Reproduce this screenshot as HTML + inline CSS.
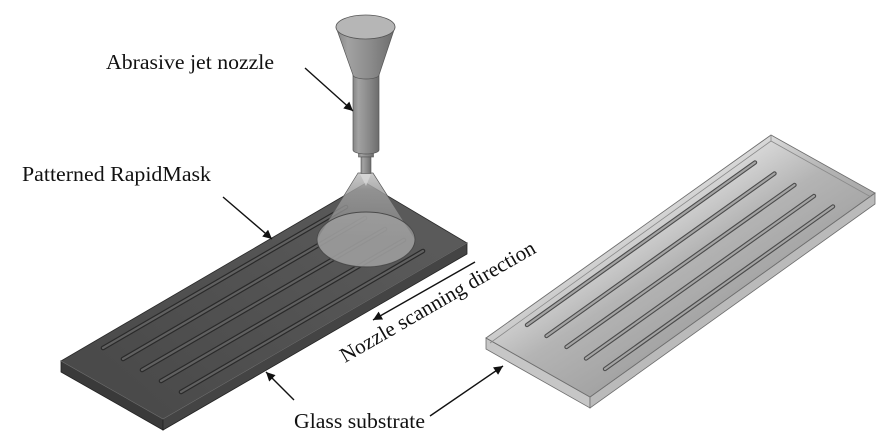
<!DOCTYPE html>
<html><head><meta charset="utf-8"><style>
html,body{margin:0;padding:0;background:#fff;}
svg{display:block;}
text{font-family:"Liberation Serif","DejaVu Serif",serif;fill:#111;}
</style></head><body>
<svg width="884" height="439" viewBox="0 0 884 439" xmlns="http://www.w3.org/2000/svg">
<defs>
<marker id="ah" viewBox="0 0 10 10" refX="10" refY="5" markerUnits="userSpaceOnUse" markerWidth="11" markerHeight="9" orient="auto">
<path d="M0,0 L10,5 L0,10 Z" fill="#111"/>
</marker>
<linearGradient id="darkTop" x1="366" y1="183" x2="163" y2="419" gradientUnits="userSpaceOnUse">
<stop offset="0" stop-color="#5a5a5a"/><stop offset="1" stop-color="#4a4a4a"/>
</linearGradient>
<linearGradient id="glassTop" x1="620" y1="230" x2="690" y2="340" gradientUnits="userSpaceOnUse">
<stop offset="0" stop-color="#dadada"/><stop offset="0.45" stop-color="#b4b4b4"/><stop offset="1" stop-color="#a2a2a2"/>
</linearGradient>
<linearGradient id="metal" x1="0" y1="0" x2="1" y2="0">
<stop offset="0" stop-color="#858585"/><stop offset="0.2" stop-color="#a2a2a2"/><stop offset="0.6" stop-color="#8a8a8a"/><stop offset="1" stop-color="#6c6c6c"/>
</linearGradient>
<linearGradient id="spray" x1="0" y1="173" x2="0" y2="240" gradientUnits="userSpaceOnUse">
<stop offset="0" stop-color="#c4c4c4" stop-opacity="0.9"/><stop offset="0.25" stop-color="#9e9e9e" stop-opacity="0.82"/><stop offset="1" stop-color="#888" stop-opacity="0.72"/>
</linearGradient>
</defs>

<!-- Dark RapidMask plate -->
<polygon points="61,361 163,419 163,430 61,372" fill="#3a3a3a" stroke="#222" stroke-width="0.8"/>
<polygon points="163,419 467,243 467,254 163,430" fill="#444" stroke="#222" stroke-width="0.8"/>
<polygon points="61,361 366,183 467,243 163,419" fill="url(#darkTop)" stroke="#2a2a2a" stroke-width="0.8"/>
<polyline points="61,361 163,419 467,243" fill="none" stroke="#6a6a6a" stroke-width="0.8"/>
<g stroke-linecap="round">
<g stroke="#2a2a2a" stroke-width="4.6">
<line x1="103" y1="348" x2="346" y2="207"/>
<line x1="123" y1="359" x2="365" y2="218"/>
<line x1="142" y1="370" x2="385" y2="229"/>
<line x1="161" y1="381" x2="404" y2="240"/>
<line x1="181" y1="392" x2="423" y2="251"/>
</g>
<g stroke="#606060" stroke-width="2.2">
<line x1="103" y1="348" x2="346" y2="207"/>
<line x1="123" y1="359" x2="365" y2="218"/>
<line x1="142" y1="370" x2="385" y2="229"/>
<line x1="161" y1="381" x2="404" y2="240"/>
<line x1="181" y1="392" x2="423" y2="251"/>
</g>
</g>

<!-- Spray cone -->
<path d="M358,173 L317,239 A49,27.5 0 0 0 415,239 L373,173 Z" fill="url(#spray)" stroke="#5a5a5a" stroke-width="0.7"/>
<polygon points="360,174 371,174 366,186" fill="#dcdcdc" opacity="0.7"/>
<ellipse cx="366" cy="239.5" rx="49" ry="27.5" fill="#a8a8a8" fill-opacity="0.6" stroke="#4a4a4a" stroke-width="0.9"/>

<!-- Nozzle -->
<rect x="358.5" y="150" width="15" height="7" fill="url(#metal)" stroke="#555" stroke-width="0.6"/>
<rect x="361" y="157" width="10" height="16.5" fill="url(#metal)" stroke="#555" stroke-width="0.6"/>
<path d="M353,75 L353,150 A13,4 0 0 0 379,150 L379,75 Z" fill="url(#metal)" stroke="#555" stroke-width="0.7"/>
<path d="M336,27 L353,75 A13,4 0 0 0 379,75 L395,27 Z" fill="url(#metal)" stroke="#555" stroke-width="0.7"/>
<ellipse cx="365.5" cy="27" rx="29.5" ry="12" fill="#b6b6b6" stroke="#555" stroke-width="0.8"/>

<!-- Glass substrate -->
<polygon points="486,338 590,397 590,408 486,349" fill="#c6c6c6" stroke="#6e6e6e" stroke-width="0.8"/>
<polygon points="590,397 875,193 875,204 590,408" fill="#bababa" stroke="#6e6e6e" stroke-width="0.8"/>
<polygon points="486,338 771,135 875,193 590,397" fill="url(#glassTop)" stroke="#6e6e6e" stroke-width="0.9"/>
<polyline points="490,343 771,141 871,197" fill="none" stroke="#8a8a8a" stroke-width="0.8"/>
<line x1="771" y1="135" x2="771" y2="141" stroke="#8a8a8a" stroke-width="0.8"/>
<g stroke-linecap="round">
<g stroke="#4c4c4c" stroke-width="4.4">
<line x1="527" y1="325" x2="755" y2="162.5"/>
<line x1="546.5" y1="336" x2="774.5" y2="173.5"/>
<line x1="566.5" y1="347" x2="794.5" y2="185"/>
<line x1="586" y1="358.5" x2="814" y2="196"/>
<line x1="605" y1="369" x2="833" y2="206.5"/>
</g>
<g stroke="#a4a4a4" stroke-width="2.1">
<line x1="527" y1="325" x2="755" y2="162.5"/>
<line x1="546.5" y1="336" x2="774.5" y2="173.5"/>
<line x1="566.5" y1="347" x2="794.5" y2="185"/>
<line x1="586" y1="358.5" x2="814" y2="196"/>
<line x1="605" y1="369" x2="833" y2="206.5"/>
</g>
</g>

<!-- Arrows -->
<g stroke="#111" stroke-width="1.4" fill="none" marker-end="url(#ah)">
<line x1="305" y1="68" x2="353" y2="111"/>
<line x1="223" y1="197" x2="272" y2="239"/>
<line x1="475" y1="262" x2="373" y2="320"/>
<line x1="294" y1="400" x2="266" y2="372"/>
<line x1="430" y1="416" x2="503" y2="366"/>
</g>

<!-- Labels -->
<text x="106" y="69" font-size="21" textLength="168" lengthAdjust="spacingAndGlyphs">Abrasive jet nozzle</text>
<text x="22" y="181" font-size="21" textLength="189" lengthAdjust="spacingAndGlyphs">Patterned RapidMask</text>
<text x="294" y="428" font-size="21" textLength="131" lengthAdjust="spacingAndGlyphs">Glass substrate</text>
<text x="0" y="0" font-size="21" textLength="222" lengthAdjust="spacingAndGlyphs" transform="translate(345,363) rotate(-30)">Nozzle scanning direction</text>
</svg>
</body></html>
